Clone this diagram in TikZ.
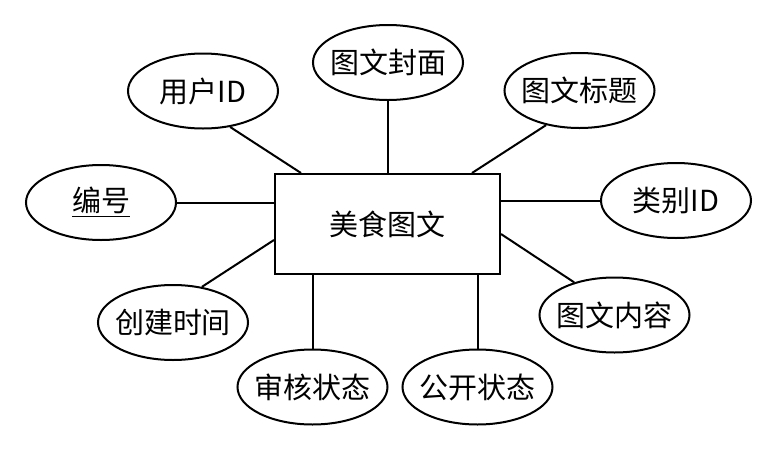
\documentclass[tikz,border=0pt]{standalone}
\usepackage{fontspec}
\setmainfont{Noto Sans CJK SC}
\usetikzlibrary{shapes.geometric}
\newcommand{\lbl}[1]{\makebox[0pt]{#1}}

\begin{document}
\begin{tikzpicture}[x=0.5pt,y=-0.5pt,line width=1pt,
    attr/.style={draw,ellipse,inner sep=0pt,minimum width=75pt,minimum height=37.5pt,
      font=\fontsize{14.5}{17}\selectfont},
    entity/.style={draw,rectangle,inner sep=0pt,minimum width=112.5pt,minimum height=50pt,
      font=\fontsize{14.5}{17}\selectfont}]
  \useasboundingbox (0,0) rectangle (778,451);
  \node[entity] (ent) at (387.5,224) {美食图文};
  \node[attr] (uid) at (203,91) {\lbl{用户ID}};
  \node[attr] (cover) at (388,62.5) {\lbl{图文封面}};
  \node[attr] (title) at (579.5,90.5) {\lbl{图文标题}};
  \node[attr] (num) at (101,202.5) {\lbl{\underline{编号}}};
  \node[attr] (cat) at (676,200.5) {\lbl{类别ID}};
  \node[attr] (ctime) at (173,322.5) {\lbl{创建时间}};
  \node[attr] (content) at (614.5,315) {\lbl{图文内容}};
  \node[attr] (audit) at (312.5,387) {\lbl{审核状态}};
  \node[attr] (pub) at (477.5,387) {\lbl{公开状态}};
  \draw (uid.-53) -- ([xshift=13.5pt]ent.north west);
  \draw (cover.south) -- (cover.south |- ent.north);
  \draw (title.-134) -- ([xshift=-14.5pt]ent.north east);
  \draw (num.east) -- (num.east -| ent.west);
  \draw (cat.west) -- (cat.west -| ent.east);
  \draw (ctime.51) -- ([yshift=17.5pt]ent.south west);
  \draw (content.141) -- ([yshift=20.5pt]ent.south east);
  \draw (audit.north) -- (audit.north |- ent.south);
  \draw (pub.north) -- (pub.north |- ent.south);
\end{tikzpicture}
\end{document}
